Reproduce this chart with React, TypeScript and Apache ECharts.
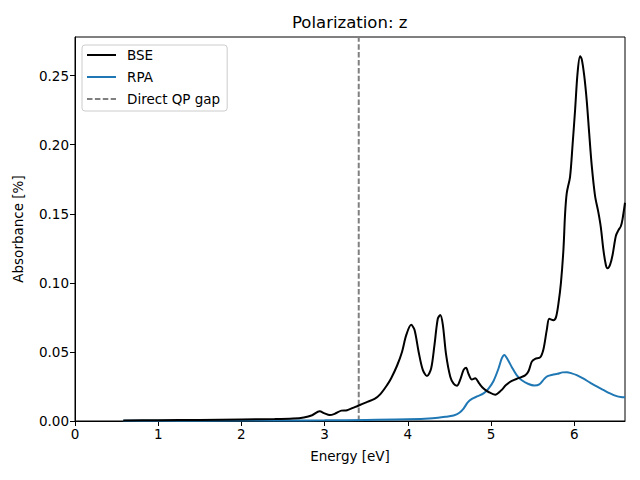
import React, { useEffect, useRef } from "react";
import * as echarts from "echarts";

const TITLE = "Polarization: z";
const X_NAME = "Energy [eV]";
const Y_NAME = "Absorbance [%]";
const X_MIN = 0;
const X_MAX = 6.61;
const Y_MIN = 0;
const Y_MAX = 0.278;
const QP_GAP = 3.41;

const bseEnergy = [
  0.58, 1.0, 1.5, 2.0, 2.4, 2.62, 2.75, 2.85, 2.94, 3.0, 3.06, 3.12, 3.2, 3.27, 3.34, 3.41, 3.5, 3.6,
  3.67, 3.75, 3.8, 3.87, 3.93, 3.98, 4.04, 4.08, 4.13, 4.18, 4.23, 4.28, 4.32, 4.36, 4.39, 4.42, 4.46,
  4.51, 4.55, 4.59, 4.63, 4.67, 4.7, 4.73, 4.77, 4.81, 4.86, 4.91, 4.97, 5.05, 5.12, 5.18, 5.25, 5.33,
  5.41, 5.45, 5.49, 5.53, 5.59, 5.63, 5.67, 5.7, 5.75, 5.78, 5.81, 5.84, 5.87, 5.89, 5.91, 5.95, 5.98,
  6.01, 6.04, 6.07, 6.09, 6.12, 6.15, 6.18, 6.21, 6.25, 6.29, 6.32, 6.35, 6.38, 6.4, 6.43, 6.46, 6.5,
  6.53, 6.56, 6.58, 6.61,
];
const bseValue = [
  0.0004, 0.0006, 0.0008, 0.0011, 0.0014, 0.0018, 0.0026, 0.0042, 0.007, 0.0055, 0.0043, 0.0052, 0.0075,
  0.0078, 0.0095, 0.0112, 0.0135, 0.016, 0.0195, 0.026, 0.031, 0.04, 0.05, 0.062, 0.0696, 0.066, 0.05,
  0.037, 0.0325, 0.038, 0.055, 0.074, 0.0768, 0.07, 0.048, 0.032, 0.027, 0.0255, 0.03, 0.037, 0.0385,
  0.034, 0.03, 0.031, 0.027, 0.0235, 0.021, 0.019, 0.022, 0.026, 0.029, 0.031, 0.033, 0.036, 0.043,
  0.045, 0.046, 0.052, 0.066, 0.074, 0.073, 0.075, 0.085, 0.1, 0.124, 0.15, 0.165, 0.177, 0.2, 0.225,
  0.252, 0.264, 0.262, 0.25, 0.232, 0.208, 0.185, 0.163, 0.151, 0.14, 0.124, 0.113, 0.1106, 0.113, 0.12,
  0.134, 0.138, 0.141, 0.146, 0.158,
];

const rpaEnergy = [
  0.58, 1.5, 2.5, 3.0, 3.5, 4.0, 4.3, 4.45, 4.55, 4.62, 4.67, 4.72, 4.77, 4.84, 4.91, 4.97, 5.03, 5.09,
  5.13, 5.16, 5.2, 5.25, 5.31, 5.37, 5.45, 5.52, 5.58, 5.64, 5.68, 5.74, 5.8, 5.86, 5.91, 5.97, 6.03,
  6.1, 6.19, 6.27, 6.35, 6.43, 6.51, 6.56, 6.61,
];
const rpaValue = [
  0.0001, 0.0002, 0.0004, 0.0005, 0.0008, 0.0012, 0.002, 0.003, 0.004, 0.006, 0.009, 0.0135, 0.016,
  0.018, 0.02, 0.0235, 0.029, 0.038, 0.0455, 0.0478, 0.0445, 0.039, 0.033, 0.0295, 0.0268, 0.0257,
  0.0265, 0.0305, 0.0325, 0.0335, 0.0342, 0.0352, 0.0353, 0.0345, 0.0332, 0.031, 0.0278, 0.025, 0.0225,
  0.02, 0.018, 0.0174, 0.0172,
];

const FONT = "DejaVu Sans";

export default function App() {
  const ref = useRef<HTMLDivElement>(null);
  useEffect(() => {
    if (!ref.current) return;
    const chart = echarts.init(ref.current, null, { renderer: "svg" });
    const bse = bseEnergy.map((e, i) => [e, bseValue[i]]);
    const rpa = rpaEnergy.map((e, i) => [e, rpaValue[i]]);
    const gap = [
      [QP_GAP, Y_MIN],
      [QP_GAP, Y_MAX],
    ];
    chart.setOption({
      animation: false,
      backgroundColor: "#fff",
      textStyle: { fontFamily: FONT },
      title: {
        text: TITLE,
        left: 287,
        top: 9,
        textStyle: { fontFamily: FONT, fontSize: 16.5, fontWeight: "normal", color: "#000" },
      },
      grid: {
        left: 75,
        right: 15,
        top: 37,
        bottom: 59,
        show: true,
        borderColor: "#000",
        borderWidth: 1,
        backgroundColor: "transparent",
      },
      legend: {
        orient: "vertical",
        left: 82,
        top: 45,
        padding: [3, 7, 5, 4],
        itemWidth: 29,
        itemHeight: 14,
        itemGap: 8,
        backgroundColor: "#fff",
        borderColor: "#cccccc",
        borderWidth: 1,
        borderRadius: 3,
        itemStyle: { opacity: 0 },
        textStyle: { fontFamily: FONT, fontSize: 13.5, color: "#000", padding: [0, 0, 0, 6] },
        data: ["BSE", "RPA", "Direct QP gap"],
      },
      xAxis: {
        type: "value",
        min: X_MIN,
        max: X_MAX,
        interval: 1,
        name: X_NAME,
        nameLocation: "middle",
        nameGap: 28,
        nameTextStyle: { fontFamily: FONT, fontSize: 13.5, color: "#000" },
        splitLine: { show: false },
        axisLine: { show: true, onZero: false, lineStyle: { color: "#000", width: 1 } },
        axisTick: { show: true, length: 5, lineStyle: { color: "#000" } },
        axisLabel: {
          fontFamily: FONT,
          fontSize: 13.5,
          color: "#000",
          margin: 6,
          showMaxLabel: false,
          formatter: (v: number) => (Math.abs(v - Math.round(v)) < 1e-9 ? String(Math.round(v)) : ""),
        },
      },
      yAxis: {
        type: "value",
        min: Y_MIN,
        max: Y_MAX,
        interval: 0.05,
        name: Y_NAME,
        nameLocation: "middle",
        nameGap: 50,
        nameRotate: 90,
        nameTextStyle: { fontFamily: FONT, fontSize: 13.5, color: "#000" },
        splitLine: { show: false },
        axisLine: { show: true, lineStyle: { color: "#000", width: 1 } },
        axisTick: { show: true, length: 5, lineStyle: { color: "#000" } },
        axisLabel: {
          fontFamily: FONT,
          fontSize: 13.5,
          color: "#000",
          margin: 6,
          showMaxLabel: false,
          formatter: (v: number) => v.toFixed(2),
        },
      },
      series: [
        {
          name: "BSE",
          type: "line",
          data: bse,
          symbol: "none",
          smooth: 0.3,
          color: "#000",
          lineStyle: { color: "#000", width: 2 },
          z: 3,
        },
        {
          name: "RPA",
          type: "line",
          data: rpa,
          symbol: "none",
          smooth: 0.3,
          color: "#1f77b4",
          lineStyle: { color: "#1f77b4", width: 2 },
          z: 2,
        },
        {
          name: "Direct QP gap",
          type: "line",
          data: gap,
          symbol: "none",
          color: "#808080",
          lineStyle: { color: "#808080", width: 2, type: [5.5, 2.4] },
          z: 1,
        },
      ],
    });
    return () => chart.dispose();
  }, []);
  return <div ref={ref} style={{ width: 640, height: 480, position: "absolute", left: 0, top: 0 }} />;
}
